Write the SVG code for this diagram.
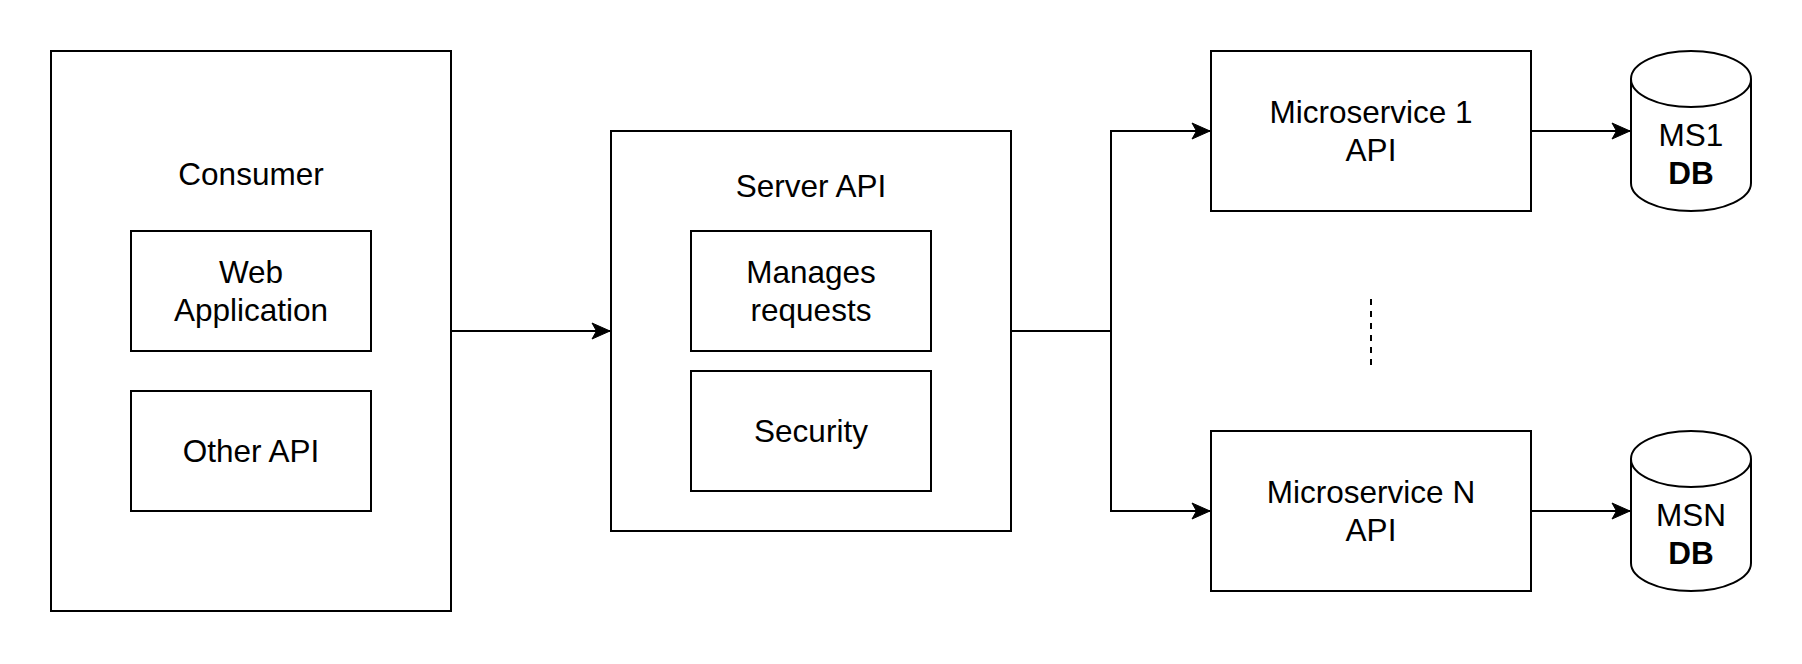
<svg xmlns="http://www.w3.org/2000/svg" width="1802" height="664" viewBox="0 0 1802 664">
<style>
.box{fill:#fff;stroke:#000;stroke-width:2}
.t{font-family:"Liberation Sans",Arial,sans-serif;font-size:31.5px;fill:#000;text-anchor:middle}
.b{font-weight:bold}
.c{fill:none;stroke:#000;stroke-width:2}
</style>
<defs>
<marker id="arr" markerUnits="userSpaceOnUse" viewBox="-19 -9 20 18" refX="0" refY="0" markerWidth="20" markerHeight="18" orient="auto">
<path d="M0,0 L-18,-8 L-13.5,0 L-18,8 Z" fill="#000" stroke="#000" stroke-width="1"/>
</marker>
</defs>
<rect width="1802" height="664" fill="#fff"/>
<g id="consumer">
<rect class="box" x="51" y="51" width="400" height="560"/>
<text class="t" x="251" y="185">Consumer</text>
</g>
<g id="web-application">
<rect class="box" x="131" y="231" width="240" height="120"/>
<text class="t" x="251" y="283">Web</text>
<text class="t" x="251" y="321">Application</text>
</g>
<g id="other-api">
<rect class="box" x="131" y="391" width="240" height="120"/>
<text class="t" x="251" y="462">Other API</text>
</g>
<g id="server-api">
<rect class="box" x="611" y="131" width="400" height="400"/>
<text class="t" x="811" y="197">Server API</text>
</g>
<g id="manages-requests">
<rect class="box" x="691" y="231" width="240" height="120"/>
<text class="t" x="811" y="283">Manages</text>
<text class="t" x="811" y="321">requests</text>
</g>
<g id="security">
<rect class="box" x="691" y="371" width="240" height="120"/>
<text class="t" x="811" y="442">Security</text>
</g>
<g id="microservice-1">
<rect class="box" x="1211" y="51" width="320" height="160"/>
<text class="t" x="1371" y="123">Microservice 1</text>
<text class="t" x="1371" y="161">API</text>
</g>
<g id="microservice-n">
<rect class="box" x="1211" y="431" width="320" height="160"/>
<text class="t" x="1371" y="503">Microservice N</text>
<text class="t" x="1371" y="541">API</text>
</g>
<g id="ms1-db">
<path class="box" d="M1631,79 A60,28 0 0 1 1751,79 V183 A60,28 0 0 1 1631,183 Z"/>
<path class="c" d="M1631,79 A60,28 0 0 0 1751,79"/>
<text class="t" x="1691" y="146">MS1</text>
<text class="t b" x="1691" y="184">DB</text>
</g>
<g id="msn-db">
<path class="box" d="M1631,459 A60,28 0 0 1 1751,459 V563 A60,28 0 0 1 1631,563 Z"/>
<path class="c" d="M1631,459 A60,28 0 0 0 1751,459"/>
<text class="t" x="1691" y="526">MSN</text>
<text class="t b" x="1691" y="564">DB</text>
</g>
<g id="connectors">
<path class="c" d="M451,331 H610" marker-end="url(#arr)"/>
<path class="c" d="M1011,331 H1111 V131 H1210" marker-end="url(#arr)"/>
<path class="c" d="M1111,331 V511 H1210" marker-end="url(#arr)"/>
<path class="c" d="M1531,131 H1630" marker-end="url(#arr)"/>
<path class="c" d="M1531,511 H1630" marker-end="url(#arr)"/>
<path class="c" d="M1371,299 V365" stroke-dasharray="6 6"/>
</g>
</svg>
